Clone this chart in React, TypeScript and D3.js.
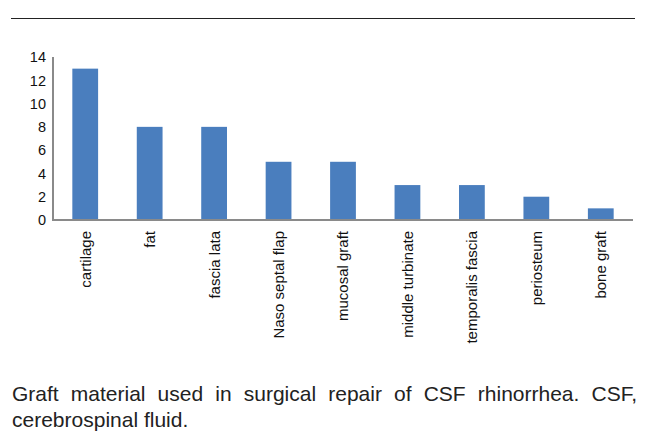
import { useEffect, useRef } from 'react';
import * as d3 from 'd3';

const categories = ['cartilage', 'fat', 'fascia lata', 'Naso septal flap', 'mucosal graft', 'middle turbinate', 'temporalis fascia', 'periosteum', 'bone graft'];
const counts = [13, 8, 8, 5, 5, 3, 3, 2, 1];
const yTicks = [0, 2, 4, 6, 8, 10, 12, 14];
const captionLines = [
  'Graft material used in surgical repair of CSF rhinorrhea. CSF,',
  'cerebrospinal fluid.',
];

export default function App() {
  const svgRef = useRef<SVGSVGElement>(null);

  useEffect(() => {
    if (!svgRef.current) return;
    const svg = d3.select(svgRef.current);
    svg.selectAll('*').remove();

    const font = '"Liberation Sans", Arial, sans-serif';
    const left = 53, right = 633, top = 57, bottom = 220;

    const x = d3.scaleBand<string>()
      .domain(categories)
      .range([left, right])
      .paddingInner(0.6)
      .paddingOuter(0.3);

    const y = d3.scaleLinear()
      .domain([0, 14])
      .range([bottom, top]);

    // top rule
    svg.append('line')
      .attr('x1', 11).attr('x2', 635)
      .attr('y1', 18.5).attr('y2', 18.5)
      .attr('stroke', '#222').attr('stroke-width', 1.2);

    // bars
    svg.append('g')
      .selectAll('rect')
      .data(counts)
      .join('rect')
      .attr('x', (d, i) => x(categories[i])!)
      .attr('y', d => y(d))
      .attr('width', x.bandwidth())
      .attr('height', d => y(0) - y(d))
      .attr('fill', '#4a7ebe');

    // axes lines
    svg.append('line')
      .attr('x1', left).attr('x2', left)
      .attr('y1', top).attr('y2', bottom + 1)
      .attr('stroke', '#8a8a8a').attr('stroke-width', 2);
    svg.append('line')
      .attr('x1', left - 1).attr('x2', right)
      .attr('y1', bottom).attr('y2', bottom)
      .attr('stroke', '#8a8a8a').attr('stroke-width', 2);

    // y tick labels
    svg.append('g')
      .selectAll('text')
      .data(yTicks)
      .join('text')
      .attr('x', 46)
      .attr('y', d => y(d))
      .attr('dy', '0.36em')
      .attr('text-anchor', 'end')
      .attr('font-family', font)
      .attr('font-size', 14.5)
      .attr('fill', '#111')
      .text(d => d);

    // x category labels
    svg.append('g')
      .selectAll('text')
      .data(categories)
      .join('text')
      .attr('transform', d => `translate(${x(d)! + x.bandwidth() / 2},231) rotate(-90)`)
      .attr('dy', '0.36em')
      .attr('text-anchor', 'end')
      .attr('font-family', font)
      .attr('font-size', 15)
      .attr('fill', '#111')
      .text(d => d);

    // caption: first line justified by widening the word gaps
    const cap1 = svg.append('text')
      .attr('x', 12).attr('y', 401)
      .attr('font-family', font)
      .attr('font-size', 21)
      .attr('fill', '#222')
      .text(captionLines[0]);
    const natural = (cap1.node() as SVGTextElement).getComputedTextLength();
    const gaps = captionLines[0].split(' ').length - 1;
    cap1.attr('word-spacing', (625 - natural) / gaps);

    svg.append('text')
      .attr('x', 12).attr('y', 427)
      .attr('font-family', font)
      .attr('font-size', 21)
      .attr('fill', '#222')
      .text(captionLines[1]);
  }, []);

  return (
    <div style={{ position: 'absolute', left: 0, top: 0, width: 650, height: 441, background: '#fff' }}>
      <svg ref={svgRef} width={650} height={441} viewBox="0 0 650 441" />
    </div>
  );
}
